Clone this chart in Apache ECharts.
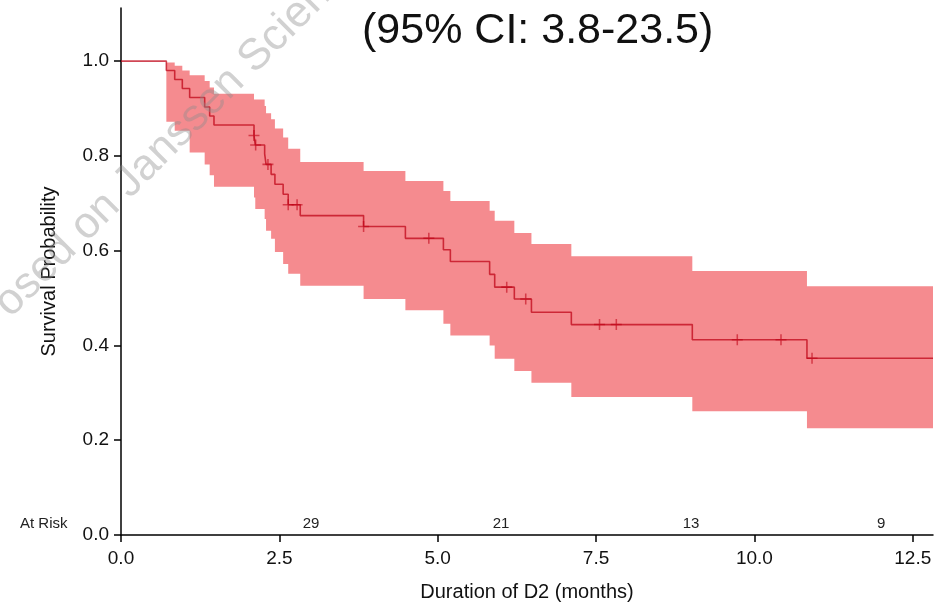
<!DOCTYPE html>
<html>
<head>
<meta charset="utf-8">
<title>Survival Probability</title>
<script src="https://cdn.jsdelivr.net/npm/echarts@6/dist/echarts.min.js"></script>
<style>
  html, body { margin: 0; padding: 0; background: #fff; }
  #chart { width: 939px; height: 607px; }
</style>
</head>
<body>
<div id="chart"></div>
<script>
'use strict'

// step times (months) and KM estimate
const times = [0, 0.716, 0.848, 0.968, 1.084, 1.321, 1.40, 1.468, 2.10, 2.12, 2.268, 2.29, 2.37, 2.43,
  2.56, 2.64, 2.83, 3.83, 4.49, 5.09, 5.20, 5.82, 5.90, 6.21, 6.48, 7.11, 9.02, 10.83]
const survival = [1, 0.980, 0.961, 0.942, 0.923, 0.903, 0.884, 0.865, 0.843, 0.823, 0.804, 0.782, 0.761, 0.740,
  0.719, 0.697, 0.674, 0.651, 0.626, 0.602, 0.577, 0.550, 0.523, 0.498, 0.470, 0.444, 0.412, 0.373]
// 95% confidence band
const lowerCI = [1, 0.872, 0.853, 0.853, 0.807, 0.782, 0.759, 0.735, 0.712, 0.688, 0.667, 0.642, 0.625, 0.597,
  0.572, 0.551, 0.526, 0.498, 0.474, 0.446, 0.421, 0.400, 0.372, 0.346, 0.321, 0.291, 0.261, 0.225]
const upperCI = [1, 0.997, 0.990, 0.980, 0.970, 0.958, 0.944, 0.931, 0.919, 0.919, 0.905, 0.890, 0.877, 0.858,
  0.839, 0.815, 0.787, 0.768, 0.747, 0.726, 0.705, 0.684, 0.663, 0.637, 0.614, 0.588, 0.557, 0.525]
const lastTime = 12.82

// censored patients (+)
const censorTimes = [2.10, 2.126, 2.32, 2.64, 2.78, 3.83, 4.86, 6.09, 6.39, 7.555, 7.82, 9.73, 10.42, 10.91]
const censorSurv = [0.843, 0.823, 0.782, 0.697, 0.697, 0.651, 0.626, 0.523, 0.498, 0.444, 0.444, 0.412, 0.412, 0.373]

// number at risk
const riskTimes = [3, 6, 9, 12]
const riskCounts = [29, 21, 13, 9]

const xTicks = [0, 2.5, 5, 7.5, 10, 12.5]
const yTicks = [0, 0.2, 0.4, 0.6, 0.8, 1.0]

const FONT = 'Liberation Sans, Arial, sans-serif'
const LINE = 'rgba(190,0,20,0.72)'
const BAND = '#f58b8f'

const last = times.length - 1
const survData = times.map((t, i) => [t, survival[i]]).concat([[lastTime, survival[last]]])
// one row per step: [from, to, lower, upper]
const bandData = times.map((t, i) => [t, i < last ? times[i + 1] : lastTime, lowerCI[i], upperCI[i]])
const censorData = censorTimes.map((t, i) => [t, censorSurv[i]])

const plus = 'path://M4.3,0h1.4v4.3h4.3v1.4h-4.3v4.3h-1.4v-4.3h-4.3v-1.4h4.3z'

// whole band as one stepped polygon, so no seams between the steps
function renderBand(params, api) {
  if (params.dataIndex !== 0) return null
  let top = [], bottom = []
  bandData.forEach(r => {
    top.push(api.coord([r[0], r[3]]), api.coord([r[1], r[3]]))
    bottom.push(api.coord([r[0], r[2]]), api.coord([r[1], r[2]]))
  })
  return {
    type: 'polygon',
    shape: {points: top.concat(bottom.reverse())},
    style: {fill: BAND}
  }
}

let chart = echarts.init(document.getElementById('chart'))
chart.setOption({
  animation: false,
  textStyle: {fontFamily: FONT},
  grid: {left: 121, right: 6, top: 8, bottom: 70, containLabel: false},
  xAxis: [{
    type: 'value', min: 0, max: lastTime,
    splitLine: {show: false},
    axisLine: {show: true, lineStyle: {color: '#000', width: 1.5}},
    axisTick: {show: true, customValues: xTicks, length: 7, lineStyle: {color: '#000', width: 1.5}},
    axisLabel: {customValues: xTicks, formatter: v => v.toFixed(1), fontSize: 19, color: '#111', margin: 14},
    name: 'Duration of D2 (months)', nameLocation: 'middle', nameGap: 47,
    nameTextStyle: {fontSize: 20, color: '#111'}
  }, {
    // at-risk row sits just above the x axis
    type: 'value', min: 0, max: lastTime, position: 'bottom',
    splitLine: {show: false}, axisLine: {show: false}, axisTick: {show: false},
    axisLabel: {inside: true, customValues: riskTimes, margin: 4, fontSize: 15, color: '#222',
      formatter: v => String(riskCounts[riskTimes.indexOf(v)])}
  }],
  yAxis: {
    type: 'value', min: 0, max: 1.112,
    splitLine: {show: false},
    axisLine: {show: true, lineStyle: {color: '#000', width: 1.5}},
    axisTick: {show: true, customValues: yTicks, length: 7, lineStyle: {color: '#000', width: 1.5}},
    axisLabel: {customValues: yTicks, formatter: v => v.toFixed(1), fontSize: 19, color: '#111', margin: 12},
    name: 'Survival Probability', nameLocation: 'middle', nameGap: 62,
    nameTextStyle: {fontSize: 20, color: '#111'}
  },
  graphic: [
    {type: 'text', left: 362, top: 10, silent: true,
      style: {text: '(95% CI: 3.8-23.5)', fontSize: 43, fontFamily: FONT, fill: '#111'}},
    {type: 'text', left: 20, top: 516, silent: true,
      style: {text: 'At Risk', fontSize: 15, fontFamily: FONT, fill: '#222'}},
    // watermark
    {type: 'text', x: 2, y: 310, rotation: Math.PI / 4, silent: true, z: 100,
      style: {text: 'osed on Janssen Scien', fontSize: 44, fontFamily: FONT,
        fill: 'rgba(140,140,140,0.4)', align: 'left', verticalAlign: 'middle',
        textAlign: 'left', textVerticalAlign: 'middle'}}
  ],
  series: [{
    name: 'band', type: 'custom', data: bandData, renderItem: renderBand,
    encode: {x: [0, 1], y: [2, 3]}, silent: true, z: 1
  }, {
    name: 'survival', type: 'line', data: survData, step: 'end',
    symbol: 'none', silent: true, lineStyle: {color: LINE, width: 1.6}, z: 3
  }, {
    name: 'censored', type: 'scatter', data: censorData, symbol: plus, symbolSize: 11,
    silent: true, itemStyle: {color: LINE}, z: 5
  }]
})
</script>
</body>
</html>
